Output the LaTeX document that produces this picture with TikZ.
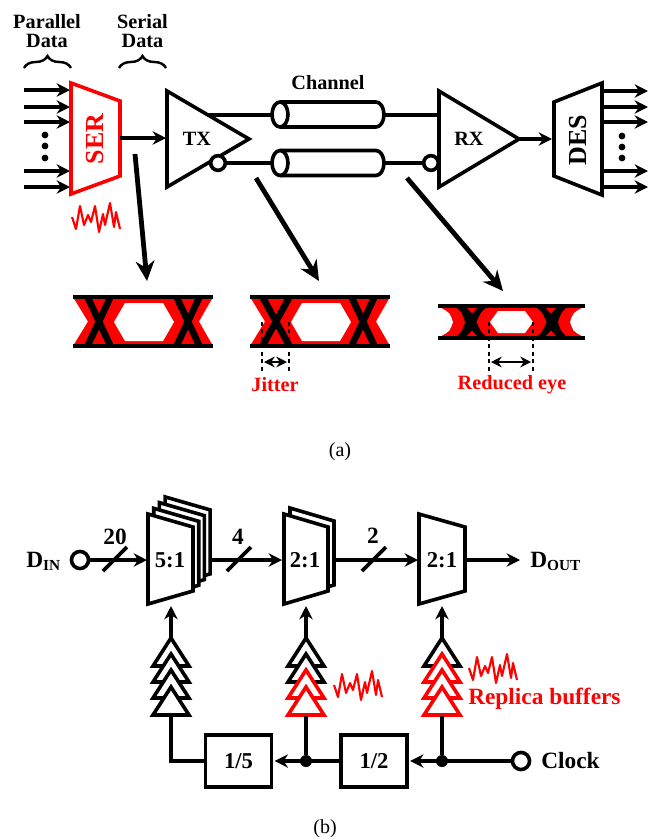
\documentclass[tikz,border=0pt]{standalone}
\usepackage{fontspec}
\setmainfont{Liberation Serif}
\usetikzlibrary{arrows.meta, calc, decorations.pathreplacing}

\tikzset{
  wire/.style={line width=2.7pt, line join=miter},
  bigarrow/.style={line width=3.6pt, -{Stealth[length=15pt,width=14pt]}},
  dotline/.style={line width=1.9pt, dash pattern=on 3pt off 2.6pt},
  lab/.style={inner sep=0pt, font=\bfseries\fontsize{15.2}{15}\selectfont},
  biglab/.style={inner sep=0pt, font=\bfseries\fontsize{17.5}{17}\selectfont},
  caplab/.style={inner sep=0pt, font=\fontsize{15}{15}\selectfont},
  bubble/.style={circle, draw, fill=white, line width=2.7pt, inner sep=0pt, minimum size=11pt},
  port/.style={circle, draw, fill=white, line width=2.7pt, inner sep=0pt, minimum size=12.8pt},
  junction/.style={circle, fill=black, inner sep=0pt, minimum size=9pt},
  divbox/.style={draw, line width=2.7pt, minimum width=49.5pt, minimum height=39pt, inner sep=0pt,
    font=\bfseries\fontsize{17}{17}\selectfont},
  noisewave/.pic={
    \draw[red, line width=1.6pt, line join=round]
      (0,0) -- (4,12) -- (8,-11) -- (12,8) -- (16,-2) -- (19,5) -- (23,-11) -- (27,15)
      -- (31,-3) -- (33,8) -- (38,-14) -- (42,10) -- (44,-5) -- (48,12);
  }
}

\begin{document}
\begin{tikzpicture}[x=0.75pt, y=-0.75pt, >={Stealth[length=10pt,width=10pt]}]
  \useasboundingbox (0,0) rectangle (652,840);

  \node[lab, align=center] (parLab) at (47,31) {Parallel\\[-0.5pt]Data};
  \node[lab, align=center] (serLab) at (142.5,31) {Serial\\[-0.5pt]Data};
  \draw[line width=1.8pt, decorate, decoration={brace, amplitude=9pt}] (24,68) -- (71,68);
  \draw[line width=1.8pt, decorate, decoration={brace, amplitude=9pt}] (119,68) -- (166,68);
  \node[lab] (chanLab) at (328,83) {Channel};

  \foreach \yIn in {90,107,122,171,187}
    \draw[wire, ->] (24,\yIn) -- (70,\yIn);
  \foreach \yDot in {135,146,158}
    \fill (45,\yDot) circle (3.4);
  \draw[wire, red, fill=white] (71,83) -- (120,101) -- (120,176) -- (71,194) -- cycle;
  \node[lab, red, rotate=90, font=\bfseries\fontsize{19.5}{20}\selectfont] (serNode) at (95,139) {SER};
  \pic at (72,217) {noisewave};

  \coordinate (serOut) at (120,138);
  \coordinate (txIn) at (166,138);
  \draw[wire, ->] (serOut) -- (txIn);
  \coordinate (txTop) at (208,115);
  \coordinate (chanTopL) at (272,115);
  \coordinate (chanTopR) at (384,115);
  \coordinate (rxTop) at (439,115);
  \coordinate (chanBotL) at (272,163);
  \coordinate (chanBotR) at (384,163);
  \node[bubble] (rxBub) at (431,163) {};
  \draw[wire] (txTop) -- (chanTopL);
  \draw[wire] (chanTopR) -- (rxTop);
  \draw[wire] (chanBotR) -- (rxBub);

  \draw[wire, fill=white] (167,91) -- (249,139) -- (167,187) -- cycle;
  \node[lab] (txNode) at (197,139) {TX};
  \node[bubble] (txBub) at (218,163) {};
  \draw[wire] (txBub) -- (chanBotL);

  \foreach \yCyl in {114.5,163} {
    \draw[wire, fill=white] (280,\yCyl-12.5) -- (376,\yCyl-12.5) arc (-90:90:8 and 12.5) -- (280,\yCyl+12.5);
    \draw[wire, fill=white] (280,\yCyl) ellipse (8 and 12.5);
  }

  \draw[wire, fill=white] (439,91) -- (519,139) -- (439,187) -- cycle;
  \node[lab] (rxNode) at (469,139) {RX};
  \coordinate (rxOut) at (519,139);
  \coordinate (desIn) at (552,139);
  \draw[wire, ->] (rxOut) -- (desIn);
  \draw[wire] (554,102) -- (602,83) -- (602,195) -- (554,176) -- cycle;
  \node[lab, rotate=90, font=\bfseries\fontsize{19.5}{20}\selectfont] (desNode) at (578,140) {DES};
  \foreach \yOut in {91,107,122,171,187}
    \draw[wire, ->] (602,\yOut) -- (648,\yOut);
  \foreach \yDot in {136,147,158}
    \fill (622,\yDot) circle (3.4);

  \foreach \eyeOff/\xLeft/\xRight/\xHalf in {0/99/188/11, 177/99/186/13} {
    \begin{scope}[shift={(\eyeOff,0)}]
      \fill[red] (73,297) -- (88,321.5) -- (73,346) -- (213,346) -- (199,321.5) -- (213,297) -- cycle;
      \fill[white] (114,322) -- (125,303) -- (163,303) -- (174,322) -- (163,341) -- (125,341) -- cycle;
      \draw[line width=5pt] (\xLeft-\xHalf,298) -- (\xLeft+\xHalf,345);
      \draw[line width=5pt] (\xLeft+\xHalf,298) -- (\xLeft-\xHalf,345);
      \draw[line width=5pt] (\xRight-11,298) -- (\xRight+11,345);
      \draw[line width=5pt] (\xRight+11,298) -- (\xRight-11,345);
      \draw[line width=2.4pt] (73,297) -- (213,297);
      \draw[line width=2.4pt] (73,346) -- (213,346);
    \end{scope}
  }

  \fill[black] (450,306) -- (573,306) -- (573,338) -- (450,338) -- cycle;
  \fill[red] (441,308) -- (457,308) .. controls (462,313) .. (465,322) .. controls (462,331) .. (457,336)
    -- (441,336) .. controls (450,331) .. (453,322) .. controls (450,313) .. cycle;
  \fill[red] (582,308) -- (566,308) .. controls (561,313) .. (558,322) .. controls (561,331) .. (566,336)
    -- (582,336) .. controls (573,331) .. (570,322) .. controls (573,313) .. cycle;
  \fill[white] (438,308.5) -- (441,308) .. controls (450,313) .. (453,322) .. controls (450,331) .. (441,336) -- (438,335.5) -- cycle;
  \fill[white] (585,308.5) -- (582,308) .. controls (573,313) .. (570,322) .. controls (573,331) .. (582,336) -- (585,335.5) -- cycle;
  \fill[red] (467,308) -- (477,308) -- (472,313.5) -- cycle;
  \fill[red] (467,336) -- (477,336) -- (472,330.5) -- cycle;
  \fill[red] (546,308) -- (556,308) -- (551,313.5) -- cycle;
  \fill[red] (546,336) -- (556,336) -- (551,330.5) -- cycle;
  \fill[red] (486,308) -- (537,308) .. controls (542,312) .. (546.5,322) .. controls (542,332) .. (537,336)
    -- (486,336) .. controls (481,332) .. (476.5,322) .. controls (481,312) .. cycle;
  \fill[white] (490,322) -- (498,311) -- (525,311) -- (533,322) -- (525,333) -- (498,333) -- cycle;
  \draw[line width=2.4pt] (438,306) -- (585,306);
  \draw[line width=2.4pt] (438,338) -- (585,338);

  \coordinate (arrAFrom) at (135,154);
  \coordinate (arrATo) at (147,281);
  \coordinate (arrBFrom) at (256,178);
  \coordinate (arrBTo) at (319,281);
  \coordinate (arrCFrom) at (407,178);
  \coordinate (arrCTo) at (503,291);
  \draw[bigarrow] (arrAFrom) -- (arrATo);
  \draw[bigarrow] (arrBFrom) -- (arrBTo);
  \draw[bigarrow] (arrCFrom) -- (arrCTo);

  \draw[dotline] (262,322) -- (262,371);
  \draw[dotline] (289,322) -- (289,371);
  \draw[line width=2.1pt, <->, >={Stealth[length=8pt,width=8pt]}] (264,362) -- (287,362);
  \node[lab, red] (jitLab) at (275,385) {Jitter};
  \draw[dotline] (489,322) -- (489,371);
  \draw[dotline] (533,322) -- (533,371);
  \draw[line width=2.1pt, <->, >={Stealth[length=8pt,width=8pt]}] (491,362) -- (531,362);
  \node[lab, red] (eyeLab) at (512,385) {Reduced eye};
  \node[caplab] (capA) at (340,452) {(a)};

  \node[biglab, anchor=west] (dinLab) at (26,561) {D{\fontsize{11.5}{12}\selectfont\raisebox{-2.2pt}{IN}}};
  \node[port] (dinPort) at (80,560) {};
  \coordinate (muxFiveIn) at (147,560);
  \draw[wire, ->] (dinPort) -- (muxFiveIn);
  \draw[wire] (103,571) -- (127,547);
  \node[biglab] (wFive) at (115,537) {20};

  \foreach \kShift in {3,2,1,0}
    \draw[wire, fill=white] ($(148,514)+(\kShift*5.7,-\kShift*5.7)$) -- ($(193,527)+(\kShift*5.7,-\kShift*5.7)$)
      -- ($(193,591)+(\kShift*5.7,-\kShift*5.7)$) -- ($(148,604)+(\kShift*5.7,-\kShift*5.7)$) -- cycle;
  \node[biglab, font=\bfseries\fontsize{17}{17}\selectfont] (muxFive) at (170,560) {5:1};

  \coordinate (muxFiveOut) at (211,560);
  \coordinate (muxTwoIn) at (282,560);
  \draw[wire, ->] (muxFiveOut) -- (muxTwoIn);
  \draw[wire] (227,571) -- (251,547);
  \node[biglab] (wFour) at (238,537) {4};

  \foreach \kShift in {1,0}
    \draw[wire, fill=white] ($(284,514)+(\kShift*6,-\kShift*6)$) -- ($(328,527)+(\kShift*6,-\kShift*6)$)
      -- ($(328,591)+(\kShift*6,-\kShift*6)$) -- ($(284,604)+(\kShift*6,-\kShift*6)$) -- cycle;
  \node[biglab, font=\bfseries\fontsize{17}{17}\selectfont] (muxTwo) at (305,560) {2:1};

  \coordinate (muxTwoOut) at (334,560);
  \coordinate (muxLastIn) at (418,560);
  \draw[wire, ->] (muxTwoOut) -- (muxLastIn);
  \draw[wire] (362,571) -- (386,547);
  \node[biglab] (wTwo) at (373,536) {2};

  \draw[wire, fill=white] (419,514) -- (465,527) -- (465,591) -- (419,604) -- cycle;
  \node[biglab, font=\bfseries\fontsize{17}{17}\selectfont] (muxLast) at (442,560) {2:1};
  \coordinate (muxLastOut) at (465,560);
  \coordinate (doutEnd) at (520,560);
  \draw[wire, ->] (muxLastOut) -- (doutEnd);
  \node[biglab, anchor=west] (doutLab) at (530,561) {D{\fontsize{11.5}{12}\selectfont\raisebox{-2.2pt}{OUT}}};

  \foreach \xC/\colA/\colB/\colC in {171/black/black/black, 306/black/red/red, 442/red/red/red}
    \foreach \yTop/\colTri in {638/black, 654/\colA, 670/\colB, 687/\colC}
      \draw[wire, fill=white, draw=\colTri] (\xC-18,\yTop+28) -- (\xC,\yTop) -- (\xC+18,\yTop+28) -- cycle;

  \pic at (334,685) {noisewave};
  \pic at (469,668) {noisewave};
  \node[biglab, red, anchor=west] (repLab) at (468,699) {Replica buffers};

  \node[divbox] (divFive) at (238.5,761) {1/5};
  \node[divbox] (divTwo) at (374,761) {1/2};
  \node[junction] (jTwo) at (306,761) {};
  \node[junction] (jClk) at (442,761) {};
  \node[port] (clkPort) at (521,761) {};
  \node[biglab, anchor=west] (clkLab) at (541,761) {Clock};

  \coordinate (bufAIn) at (171,716);
  \coordinate (bufAOut) at (171,638);
  \coordinate (muxFiveCk) at (171,606);
  \coordinate (bufBIn) at (306,716);
  \coordinate (bufBOut) at (306,638);
  \coordinate (muxTwoCk) at (306,606);
  \coordinate (bufCIn) at (442,716);
  \coordinate (bufCOut) at (442,638);
  \coordinate (muxLastCk) at (442,606);
  \draw[wire, ->] (bufAOut) -- (muxFiveCk);
  \draw[wire, ->] (bufBOut) -- (muxTwoCk);
  \draw[wire, ->] (bufCOut) -- (muxLastCk);
  \draw[wire] (divFive) -| (bufAIn);
  \draw[wire] (jTwo) -- (bufBIn);
  \draw[wire] (jClk) -- (bufCIn);
  \draw[wire, ->, shorten >=1pt] (divTwo) -- (divFive);
  \draw[wire, ->, shorten >=1pt] (clkPort) -- (divTwo);

  \node[caplab] (capB) at (325,829) {(b)};
\end{tikzpicture}
\end{document}
